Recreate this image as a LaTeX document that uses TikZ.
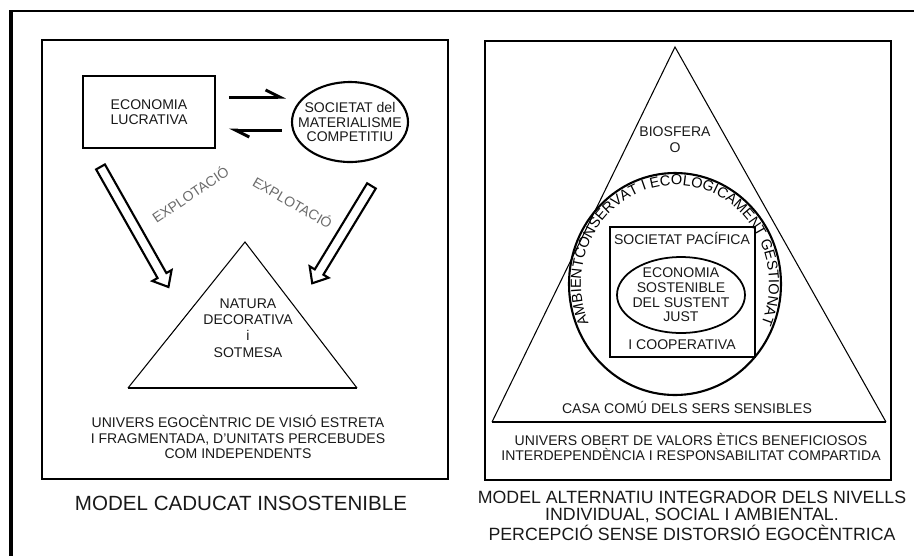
\documentclass[tikz,border=0pt]{standalone}
\usepackage{fontspec}
\setmainfont{Liberation Sans}
\usetikzlibrary{positioning,calc,arrows.meta,shapes.geometric,shapes.arrows,decorations.text}

\begin{document}
\begin{tikzpicture}[x=0.02cm,y=-0.02cm,
    every node/.style={align=center,inner sep=0pt,text=black!90,font=\fontsize{8}{8.8}\selectfont},
    box/.style={draw,line width=1.5pt},
    harp/.style={line width=1.7pt,-{Straight Barb[left,length=8pt,width=8pt]}},
    hollow/.style={single arrow,draw,line width=1.2pt,inner xsep=0pt,inner ysep=0.08cm,
      single arrow head extend=0.12cm,single arrow tip angle=80,anchor=tail},
    expl/.style={text=black!58,font=\fontsize{8}{9}\selectfont}]
  \useasboundingbox (0,0) rectangle (914,556);
  \draw[line width=1.2pt] (914,11) -- (11,11);
  \draw[line width=2pt] (11,10) -- (11,556);

  % model caducat
  \draw[box] (42,40) rectangle (448,479);
  \node (1) [draw,line width=1pt,minimum width=2.64cm,minimum height=1.44cm] at (149,112) {ECONOMIA\\LUCRATIVA};
  \node (2) [ellipse,draw,line width=1.2pt,minimum width=2.32cm,minimum height=1.6cm] at (350,122) {};
  \node at (2) [font=\fontsize{8}{8.5}\selectfont] {SOCIETAT del\\MATERIALISME\\COMPETITIU};
  \draw[harp] ($(1.east)+(13,-15)$) -- ($(1.east -| 2.west)+(-5,-15)$);
  \draw[harp] ($(1.east -| 2.west)+(-9,18)$) -- ($(1.east)+(13,18)$);

  \coordinate (t1) at (245,242);
  \coordinate (t2) at (128,388);
  \coordinate (t3) at (357,388);
  \draw[line width=0.6pt] (t2) -- (t1) -- (t3);
  \draw[line width=1.1pt] (t2) -- (t3);
  \node (3) at (248,328) [font=\fontsize{8}{9.3}\selectfont] {NATURA\\DECORATIVA\\i\\SOTMESA};

  \coordinate (h1) at (100,166);
  \coordinate (h2) at (372,185);
  \node[hollow,rotate=-60.5,minimum height=2.76cm] at (h1) {};
  \node[hollow,rotate=-121.3,minimum height=2.28cm] at (h2) {};
  \node[expl,rotate=34] at (190,194) {EXPLOTACIÓ};
  \node[expl,rotate=-30] at (293,202) {EXPLOTACIÓ};

  \node (4) at (238,437) {UNIVERS EGOCÈNTRIC DE VISIÓ ESTRETA\\I FRAGMENTADA, D'UNITATS PERCEBUDES\\COM INDEPENDENTS};
  \node at (241,503) [font=\fontsize{11.7}{14}\selectfont] {MODEL CADUCAT INSOSTENIBLE};

  % model alternatiu
  \draw[box] (485,41) rectangle (891,480);
  \coordinate (r1) at (675,47);
  \coordinate (r2) at (492,422);
  \coordinate (r3) at (886,422);
  \draw[line width=0.6pt] (r2) -- (r1) -- (r3);
  \draw[line width=1.1pt] (r2) -- (r3);
  \node at (675,140) [font=\fontsize{8}{9.1}\selectfont] {BIOSFERA\\O};

  \coordinate (c) at (675,284);
  \draw[line width=1.2pt] (c) ellipse [x radius=106,y radius=111];
  \path[decorate,decoration={text along path,text align=center,
      text={|\fontsize{8.3}{9}\selectfont|AMBIENTCONSERVAT I ECOLÒGICAMENT GESTIONAT}}]
    ([shift={(-215:94 and 99)}]c) arc[start angle=-215,end angle=35,x radius=94,y radius=99];

  \node (5) [draw,line width=1.3pt,minimum width=2.9cm,minimum height=2.6cm] at (682.5,292) {};
  \node at (682,238) {SOCIETAT PACÍFICA};
  \node (6) [ellipse,draw,line width=1pt,minimum width=2.56cm,minimum height=1.52cm] at (681,295) {};
  \node at (6) [font=\fontsize{8}{8.4}\selectfont] {ECONOMIA\\SOSTENIBLE\\DEL SUSTENT\\JUST};
  \node at (682,345) {I COOPERATIVA};

  \node at (687,407) {CASA COMÚ DELS SERS SENSIBLES};
  \node at (691,447) [font=\fontsize{8}{8.5}\selectfont] {UNIVERS OBERT DE VALORS ÈTICS BENEFICIOSOS\\INTERDEPENDÈNCIA I RESPONSABILITAT COMPARTIDA};
  \node at (692,516) [font=\fontsize{10.1}{9.7}\selectfont] {MODEL ALTERNATIU INTEGRADOR DELS NIVELLS\\INDIVIDUAL, SOCIAL I AMBIENTAL.\\PERCEPCIÓ SENSE DISTORSIÓ EGOCÈNTRICA};
\end{tikzpicture}
\end{document}
